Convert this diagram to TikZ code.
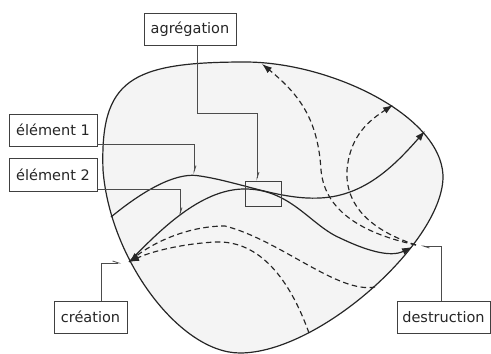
\documentclass[tikz,border=0pt]{standalone}
\usepackage{fontspec}
\setmainfont{DejaVu Sans}
\usetikzlibrary{arrows.meta}
\begin{document}
\begin{tikzpicture}[x=1pt,y=-1pt,
  lbl/.style={draw=black!75, line width=0.9pt, fill=white, inner sep=0pt, font=\fontsize{14.5}{17}\selectfont, text=black!85},
  blob/.style={draw=black!85, line width=1.2pt, fill={rgb,255:red,244;green,244;blue,244}},
  elem/.style={draw=black!85, line width=1.2pt},
  dashline/.style={draw=black!85, line width=1.15pt, dash pattern=on 5.5pt off 3.5pt},
  tip/.style={-{Latex[length=10pt,width=7pt]}},
  conn/.style={draw=black!70, line width=0.8pt, -{Straight Barb[harpoon,length=6pt,width=4pt]}}
]
\useasboundingbox (0,0) rectangle (491,354);

% blob
\path[blob] (103,170) .. controls (100,80) and (130,62) .. (245,62)
  .. controls (330,62) and (440,115) .. (443,175)
  .. controls (445,240) and (320,353) .. (240,353)
  .. controls (180,353) and (110,260) .. cycle;

% points
\coordinate (crep) at (129,262);
\coordinate (desp) at (416,245);
\coordinate (e1end) at (425,131);
\coordinate (e1start) at (111,217);
\coordinate (topA) at (262,64);
\coordinate (topB) at (393,105);
\coordinate (botA) at (375,287);
\coordinate (botB) at (309,333);

% dashed curves
\draw[dashline, tip] (botA) .. controls (338,294) and (280,240) .. (225,226)
   .. controls (185,226) and (150,245) .. (crep);
\draw[dashline, tip] (botB) .. controls (290,280) and (260,240) .. (215,242)
   .. controls (180,244) and (150,252) .. (crep);
\draw[dashline, tip] (desp) .. controls (370,235) and (325,215) .. (321,170)
   .. controls (318,120) and (300,95) .. (topA);
\draw[dashline, tip] (desp) .. controls (370,230) and (345,205) .. (347,170)
   .. controls (350,135) and (370,120) .. (topB);

% element curves
\draw[elem, tip] (e1start) .. controls (150,185) and (180,172) .. (200,176)
   .. controls (240,182) and (280,200) .. (320,198)
   .. controls (365,196) and (395,165) .. (e1end);
\draw[elem, tip] (crep) .. controls (160,230) and (200,190) .. (243,189)
   .. controls (290,188) and (310,225) .. (340,238)
   .. controls (365,250) and (390,258) .. (412,247);

% aggregation box
\node[draw=black!75, line width=0.9pt, minimum width=36pt, minimum height=25pt, inner sep=0pt] (box) at (263,193.5) {};

% label boxes
\node[lbl, minimum width=92pt, minimum height=32pt] (agr) at (190,29) {agrégation};
\node[lbl, minimum width=88pt, minimum height=32pt] (el1) at (53,130) {élément 1};
\node[lbl, minimum width=88pt, minimum height=33pt] (el2) at (53,174.5) {élément 2};
\node[lbl, minimum width=73pt, minimum height=32pt] (cre) at (90.5,317) {création};
\node[lbl, minimum width=93pt, minimum height=32pt] (des) at (443.5,317) {destruction};

\coordinate (e1pt) at (194,174);
\coordinate (e2pt) at (180,216);
\coordinate (cpt) at (121,263);
\coordinate (dpt) at (421,246);

% connectors
\draw[conn] ([xshift=7pt]agr.south) -- ++(0,68) -| ([xshift=-6pt]box.north);
\draw[conn] ([yshift=2.5pt]el1.south east) -| (e1pt);
\draw[conn] ([yshift=2pt]el2.south east) -| (e2pt);
\draw[conn] ([xshift=10.5pt]cre.north) |- (cpt);
\draw[conn] ([xshift=-2.5pt]des.north) |- (dpt);
\end{tikzpicture}
\end{document}
